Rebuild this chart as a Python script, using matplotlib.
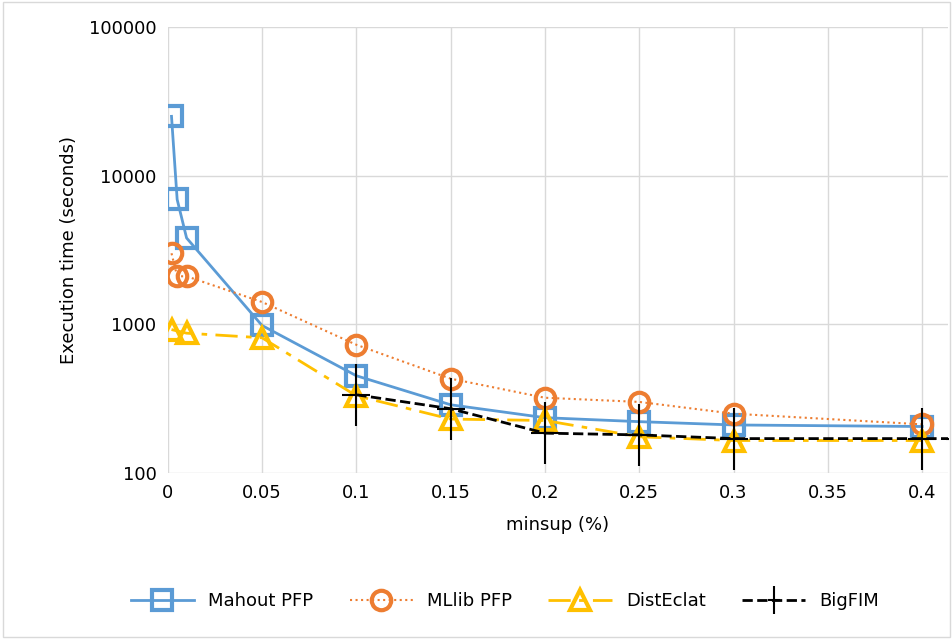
import numpy as np
import matplotlib.pyplot as plt
from matplotlib.path import Path

mahout_x = [0.002, 0.005, 0.01, 0.05, 0.1, 0.15, 0.2, 0.25, 0.3, 0.4]
mahout_y = [25000, 6900, 3800, 980, 450, 287, 235, 221, 210, 205]
mllib_x = [0.002, 0.005, 0.01, 0.05, 0.1, 0.15, 0.2, 0.25, 0.3, 0.4]
mllib_y = [3000, 2100, 2100, 1410, 727, 430, 320, 300, 250, 212]
eclat_x = [0.002, 0.01, 0.05, 0.1, 0.15, 0.2, 0.25, 0.3, 0.4]
eclat_y = [920, 870, 810, 330, 230, 225, 175, 165, 165]
bigfim_x = [0.1, 0.15, 0.2, 0.25, 0.3, 0.4, 0.42]
bigfim_y = [335, 270, 185, 180, 170, 170, 170]

plus = Path([(-1, 0), (1, 0), (0, 2.2), (0, -2.2)],
            [Path.MOVETO, Path.LINETO, Path.MOVETO, Path.LINETO])

fig = plt.figure(figsize=(9.53, 6.39), dpi=100)
ax = fig.add_axes([0.176, 0.26, 0.819, 0.698])
ax.plot(mahout_x, mahout_y, color='#5b9bd5', lw=2, marker='s', ms=14, mfc='none', mew=3, label='Mahout PFP')
ax.plot(mllib_x, mllib_y, color='#ed7d31', lw=1.5, ls=':', marker='o', ms=14, mfc='none', mew=3, label='MLlib PFP')
ax.plot(eclat_x, eclat_y, color='#ffc000', lw=2, ls=(0, (8, 3, 2, 3)), marker='^', ms=14, mfc='none', mew=3, label='DistEclat')
ax.plot(bigfim_x, bigfim_y, color='black', lw=2, ls='--', marker=plus, ms=44, mew=1.5, label='BigFIM')

ax.set_yscale('log')
ax.set_ylim(100, 100000)
ax.set_xlim(0, 0.4138)
ax.set_xticks(np.arange(0, 0.401, 0.05))
ax.set_xticklabels(['0', '0.05', '0.1', '0.15', '0.2', '0.25', '0.3', '0.35', '0.4'])
ax.set_yticks([100, 1000, 10000, 100000])
ax.set_yticklabels(['100', '1000', '10000', '100000'])
ax.minorticks_off()
ax.grid(True, color='#d9d9d9', lw=1)
ax.set_axisbelow(True)
for s in ax.spines.values():
    s.set_visible(False)
ax.tick_params(length=0, labelsize=13, pad=8)
ax.set_xlabel('minsup (%)', fontsize=13, labelpad=10)
ax.set_ylabel('Execution time (seconds)', fontsize=13, labelpad=8)
leg = fig.legend(loc='lower center', ncol=4, frameon=False, fontsize=13,
                 bbox_to_anchor=(0.53, 0.02), handlelength=3.5, columnspacing=2)
leg.legend_handles[3].set_markersize(20)
fig.patches.append(plt.Rectangle((0.003, 0.003), 0.994, 0.994, transform=fig.transFigure,
                                 fill=False, edgecolor='#d9d9d9', lw=1))
fig.savefig('out.png')
